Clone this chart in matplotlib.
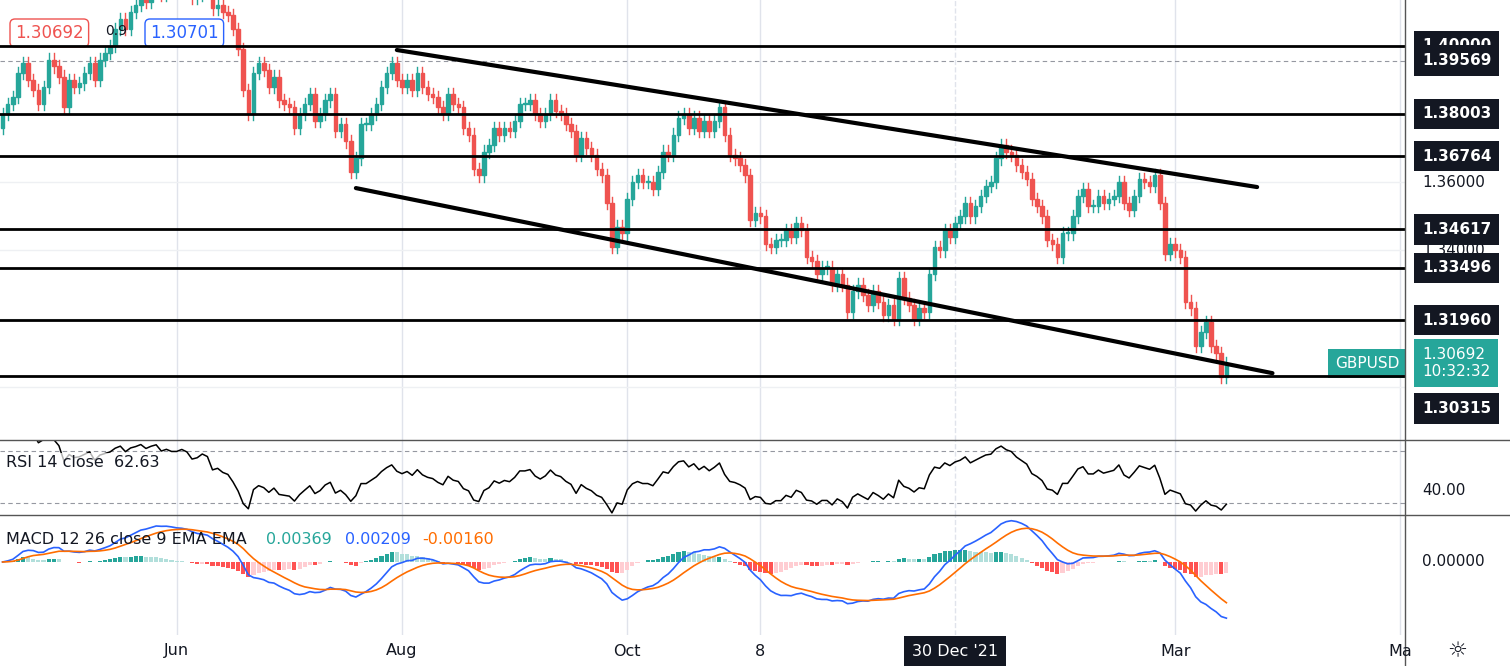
import numpy as np, pandas as pd
import matplotlib
matplotlib.use("Agg")
import matplotlib.pyplot as plt
from matplotlib.patches import Rectangle

apr=[1.3800,1.3830,1.3850,1.3920,1.3950,1.3900,1.3870,1.3830,1.3880,1.3960,1.3940,1.3910,1.3820]
may=[1.3900,1.3880,1.3890,1.3920,1.3950,1.3900,1.3960,1.3980,1.4000,1.4050,1.4080,1.4050,1.4100,1.4120,1.4150,1.4130,1.4160,1.4180,1.4150,1.4170,1.4160]
jun=[1.4160,1.4180,1.4170,1.4140,1.4150,1.4180,1.4170,1.4110,1.4120,1.4100,1.4090,1.4050,1.3990,1.3870,1.3800,1.3920,1.3950,1.3930,1.3880,1.3910,1.3840,1.3830]
jul=[1.3820,1.3760,1.3800,1.3830,1.3860,1.3780,1.3800,1.3840,1.3860,1.3750,1.3770,1.3720,1.3630,1.3670,1.3770,1.3770,1.3800,1.3830,1.3880,1.3920,1.3950,1.3900]
aug=[1.3880,1.3900,1.3870,1.3920,1.3880,1.3860,1.3850,1.3820,1.3800,1.3860,1.3830,1.3820,1.3760,1.3740,1.3640,1.3620,1.3690,1.3710,1.3760,1.3740,1.3760,1.3750]
sep=[1.3780,1.3830,1.3830,1.3840,1.3800,1.3780,1.3800,1.3840,1.3810,1.3800,1.3770,1.3750,1.3680,1.3730,1.3700,1.3680,1.3640,1.3620,1.3540,1.3410,1.3470,1.3450]
oct_=[1.3550,1.3600,1.3620,1.3600,1.3600,1.3580,1.3630,1.3690,1.3680,1.3740,1.3790,1.3800,1.3760,1.3790,1.3750,1.3780,1.3750,1.3780,1.3820,1.3740,1.3680]
nov=[1.3670,1.3650,1.3620,1.3490,1.3510,1.3500,1.3420,1.3410,1.3430,1.3430,1.3460,1.3440,1.3480,1.3460,1.3380,1.3370,1.3330,1.3350,1.3350,1.3300,1.3330,1.3300]
dec=[1.3220,1.3280,1.3300,1.3270,1.3240,1.3280,1.3250,1.3210,1.3240,1.3200,1.3320,1.3260,1.3240,1.3200,1.3230,1.3220,1.3330,1.3410,1.3400,1.3460,1.3440,1.3480,1.3500]
jan=[1.3540,1.3500,1.3530,1.3560,1.3590,1.3600,1.3670,1.3710,1.3690,1.3680,1.3650,1.3630,1.3610,1.3550,1.3530,1.3500,1.3430,1.3420,1.3380,1.3450,1.3450]
feb=[1.3500,1.3560,1.3580,1.3530,1.3530,1.3560,1.3540,1.3550,1.3560,1.3600,1.3540,1.3520,1.3560,1.3610,1.3600,1.3590,1.3620,1.3540,1.3390,1.3420]
mar=[1.3400,1.3380,1.3250,1.3230,1.3120,1.3160,1.3190,1.3120,1.3100,1.3030,1.3069]
closes=np.array(apr+may+jun+jul+aug+sep+oct_+nov+dec+jan+feb+mar)
first_open=1.3760
levels=[1.40000,1.38003,1.36764,1.34617,1.33496,1.31960,1.30315]
level_labels=["1.40000","1.38003","1.36764","1.34617","1.33496","1.31960","1.30315"]
upper_tl=[("2021-07-30",1.3988),("2022-03-23",1.3586)]
lower_tl=[("2021-07-20",1.3583),("2022-03-28",1.3040)]
tick_dates=["2021-06-01","2021-08-02","2021-10-01","2021-11-08","2021-12-30","2022-03-01","2022-05-02"]
tick_labels=["Jun","Aug","Oct","8","30 Dec '21","Mar","Ma"]

dates=pd.bdate_range("2021-04-14",periods=len(closes))
ext=pd.bdate_range(dates[0],periods=len(closes)+60)
def xi(d): return ext.searchsorted(pd.Timestamp(d))
opens=np.concatenate([[first_open],closes[:-1]])
wick=0.0018
highs=np.maximum(opens,closes)+wick; lows=np.minimum(opens,closes)-wick
UP,DN="#26a69a","#ef5350"

s=pd.Series(closes); d=s.diff()
g=d.clip(lower=0).ewm(alpha=1/14,adjust=False).mean(); l=(-d.clip(upper=0)).ewm(alpha=1/14,adjust=False).mean()
rsi=(100-100/(1+g/l)).values
macd=(s.ewm(span=12,adjust=False).mean()-s.ewm(span=26,adjust=False).mean()).values
sig=pd.Series(macd).ewm(span=9,adjust=False).mean().values
hist=macd-sig

W,H=1510,666
fig=plt.figure(figsize=(W/100,H/100),dpi=100)
pw=1405/W
ax=fig.add_axes([0,(H-440)/H,pw,440/H])
ar=fig.add_axes([0,(H-515)/H,pw,75/H])
am=fig.add_axes([0,(H-635)/H,pw,120/H])
xmax=1405/5.13
for a in (ax,ar,am):
    a.set_xlim(-0.5,xmax)
    for sp in a.spines.values(): sp.set_visible(False)
    a.set_xticks([]); a.set_yticks([])
    for td in tick_dates:
        a.axvline(xi(td),color="#e0e3eb",lw=1,zorder=0,ls="--" if td=="2021-12-30" else "-")
fig.add_artist(plt.Line2D([0,1],[(H-440)/H]*2,color="#555",lw=1))
fig.add_artist(plt.Line2D([0,1],[(H-515)/H]*2,color="#555",lw=1))
fig.add_artist(plt.Line2D([pw,pw],[0,1],color="#555",lw=1))

ymin,ymax=1.2844,1.41347
ax.set_ylim(ymin,ymax)
for p in [1.40,1.38,1.36,1.34,1.32,1.30]:
    ax.axhline(p,color="#eef0f3",lw=1,zorder=0)
x=np.arange(len(closes))
for i in x:
    c=UP if closes[i]>=opens[i] else DN
    ax.plot([i,i],[lows[i],highs[i]],color=c,lw=1,zorder=2)
    ax.add_patch(Rectangle((i-0.35,min(opens[i],closes[i])),0.7,max(abs(closes[i]-opens[i]),0.0003),color=c,zorder=3))
for lv in levels: ax.axhline(lv,color="black",lw=2,zorder=4)
ax.axhline(1.39569,color="#9598a1",lw=0.8,ls=(0,(4,3)),zorder=1)
for tl in (upper_tl,lower_tl):
    ax.plot([xi(tl[0][0]),xi(tl[1][0])],[tl[0][1],tl[1][1]],color="black",lw=3,zorder=5,solid_capstyle="round")

def ylab(a,yv,t,fc,tc="white",bold=True):
    a.text(1.012,yv,t,transform=a.get_yaxis_transform(),ha="left",va="center",fontsize=11,color=tc,
           fontweight="bold" if bold else "normal",clip_on=False,
           bbox=dict(boxstyle="square,pad=0.5",fc=fc,ec="none") if fc else None)
for lv,lb in zip(levels,level_labels):
    yv=lv if lb!="1.30315" else 1.2936
    ylab(ax,yv,lb,"#131722")
ylab(ax,1.39569,"1.39569","#131722")
ylab(ax,1.3600,"1.36000",None,"#131722",False)
ylab(ax,1.3400,"1.34000",None,"#131722",False)
ylab(ax,1.30692,"1.30692\n10:32:32",UP,"white",False)
ax.text(0.996,1.30692,"GBPUSD",transform=ax.get_yaxis_transform(),ha="right",va="center",fontsize=11,color="white",
        bbox=dict(boxstyle="square,pad=0.45",fc=UP,ec="none"),clip_on=False)
ax.text(15/1405,0.925,"1.30692",transform=ax.transAxes,fontsize=12,color="#ef5350",va="center",
        bbox=dict(boxstyle="round,pad=0.3",fc="white",ec="#ef5350"))
ax.text(105/1405,0.93,"0.9",transform=ax.transAxes,fontsize=10,color="#131722",va="center")
ax.text(150/1405,0.925,"1.30701",transform=ax.transAxes,fontsize=12,color="#2962ff",va="center",
        bbox=dict(boxstyle="round,pad=0.3",fc="white",ec="#2962ff"))

ar.set_ylim(20.8,78.5)
ar.axhline(70,color="#9598a1",lw=0.8,ls=(0,(4,3))); ar.axhline(30,color="#9598a1",lw=0.8,ls=(0,(4,3)))
ar.plot(x,rsi,color="black",lw=1.1)
ar.text(0.004,0.7,"RSI 14 close  62.63",transform=ar.transAxes,fontsize=11.5,color="#131722",va="center",
        bbox=dict(boxstyle="square,pad=0.1",fc="white",ec="none",alpha=0.7))
ylab(ar,40,"40.00",None,"#131722",False)

lo=min(macd.min(),sig.min())*1.3; hi=-lo*47/73
am.set_ylim(lo,hi)
hc=[]
for i,h in enumerate(hist):
    prev=hist[i-1] if i else h
    if h>=0: hc.append("#26a69a" if h>=prev else "#b2dfdb")
    else: hc.append("#ff5252" if h<=prev else "#ffcdd2")
am.bar(x,hist*0.7,width=0.8,color=hc)
am.plot(x,macd,color="#2962ff",lw=1.2); am.plot(x,sig,color="#ff6d00",lw=1.2)
am.text(0.004,0.8,"MACD 12 26 close 9 EMA EMA",transform=am.transAxes,fontsize=11.5,color="#131722",va="center")
am.text(266/1405,0.8,"0.00369",transform=am.transAxes,fontsize=11.5,color="#26a69a",va="center")
am.text(345/1405,0.8,"0.00209",transform=am.transAxes,fontsize=11.5,color="#2962ff",va="center")
am.text(422/1405,0.8,"-0.00160",transform=am.transAxes,fontsize=11.5,color="#ff6d00",va="center")
ylab(am,0,"0.00000",None,"#131722",False)

for td,tl in zip(tick_dates,tick_labels):
    xf=am.transData.transform((xi(td),0))[0]/W
    if tl.startswith("30"):
        fig.text(xf,(H-651)/H,tl,ha="center",va="center",fontsize=11.5,color="white",
                 bbox=dict(boxstyle="square,pad=0.5",fc="#131722",ec="none"))
    else:
        fig.text(xf,(H-651)/H,tl,ha="center",va="center",fontsize=11.5,color="#131722")
fig.text(1457/W,(H-651)/H,"☼",ha="center",va="center",fontsize=16,color="#131722")
fig.savefig("out.png",dpi=100,facecolor="white")
